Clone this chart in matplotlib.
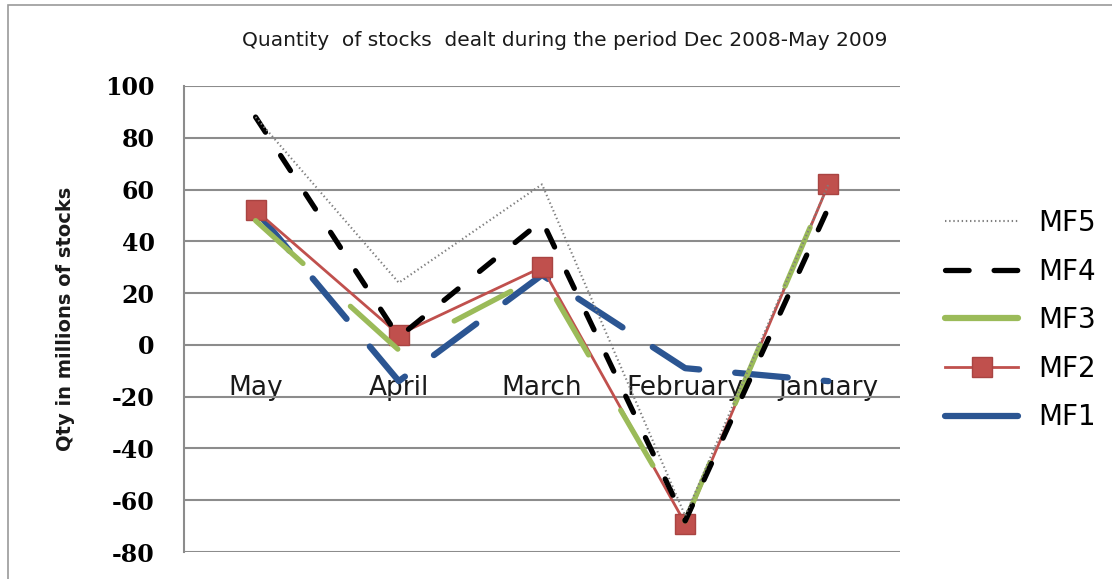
import matplotlib
matplotlib.use('Agg')
import matplotlib.pyplot as plt
from matplotlib.lines import Line2D
from matplotlib.patches import Rectangle

# Monthly quantity of stocks dealt by each fund (millions)
months = ['May', 'April', 'March', 'February', 'January']
mf1 = [52, -14, 27, -9, -14]
mf2 = [52, 4, 30, -69, 62]
mf3 = [48, -2, 27, -68, 62]
mf4 = [88, 3, 48, -68, 53]
mf5 = [88, 24, 62, -66, 62]
y_ticks = list(range(-80, 101, 20))
title = 'Quantity  of stocks  dealt during the period Dec 2008-May 2009'
y_label = 'Qty in millions of stocks'

plt.rcParams['lines.scale_dashes'] = False

W, H = 1112, 579
fig = plt.figure(figsize=(W / 100, H / 100), dpi=100)
fig.patch.set_facecolor('white')

# outer chart border
fig.patches.append(Rectangle((8 / W, -0.1), 1.2, 1 - 5 / H + 0.1,
                             transform=fig.transFigure, fill=False,
                             edgecolor='#9a9a9a', lw=1.2))

ax = fig.add_axes([184 / W, 1 - 552 / H, 716 / W, 466 / H])
x = list(range(len(months)))
ax.set_xlim(-0.5, len(months) - 0.5)
ax.set_ylim(-80, 100)

ax.set_yticks(y_ticks)
ax.set_yticklabels([str(v) for v in y_ticks], fontfamily='DejaVu Serif',
                   fontweight='bold', fontsize=17)
ax.tick_params(axis='y', length=0, pad=21)
ax.set_xticks([])
ax.grid(axis='y', color='#8c8c8c', lw=1.5, zorder=0)
for s in ['top', 'right', 'bottom']:
    ax.spines[s].set_visible(False)
ax.spines['left'].set_color('#8c8c8c')
ax.spines['left'].set_linewidth(1.5)

# category labels sit just under the zero line
for i, m in enumerate(months):
    ax.annotate(m, (i, 0), xytext=(0, -31), textcoords='offset points',
                ha='center', va='center', fontsize=19, color='#1a1a1a',
                zorder=1)

blue = '#2B5592'
red = '#C0504D'
green = '#9BBB59'

ax.plot(x, mf1, color=blue, lw=4.5, dashes=(38, 26),
        dash_capstyle='round', solid_capstyle='round', zorder=3)
ax.plot(x, mf2, color=red, lw=2, marker='s', ms=14, mfc=red, mec='#A94442',
        zorder=4)
ax.plot(x, mf3, color=green, lw=3.8, dashes=(46, 46),
        dash_capstyle='round', solid_capstyle='round', zorder=5)
ax.plot(x, mf4, color='black', lw=3.8, dashes=(13, 20),
        dash_capstyle='round', zorder=6)
ax.plot(x, mf5, color='#7f7f7f', lw=1.5, dashes=(1, 2), zorder=7)

handles = [
    Line2D([], [], color='#7f7f7f', lw=1.5, dashes=(1, 2)),
    Line2D([], [], color='black', lw=3.8, dashes=(17, 18),
           dash_capstyle='round'),
    Line2D([], [], color=green, lw=4.5, solid_capstyle='round'),
    Line2D([], [], color=red, lw=2, marker='s', ms=14, mfc=red,
           mec='#A94442'),
    Line2D([], [], color=blue, lw=4.5, solid_capstyle='round'),
]
fig.legend(handles, ['MF5', 'MF4', 'MF3', 'MF2', 'MF1'],
           loc='upper left', bbox_to_anchor=(945 / W, 1 - 209 / H),
           frameon=False, fontsize=20, handlelength=2.63,
           handletextpad=0.72, labelspacing=0.74, borderpad=0,
           borderaxespad=0)

fig.text(565 / W, 1 - 40 / H, title, ha='center', va='center', fontsize=14.5,
         color='#1a1a1a')
fig.text(66 / W, 1 - 319 / H, y_label, rotation=90, ha='center', va='center',
         fontsize=14, fontweight='bold', color='#1a1a1a')

fig.savefig('out.png', dpi=100)
